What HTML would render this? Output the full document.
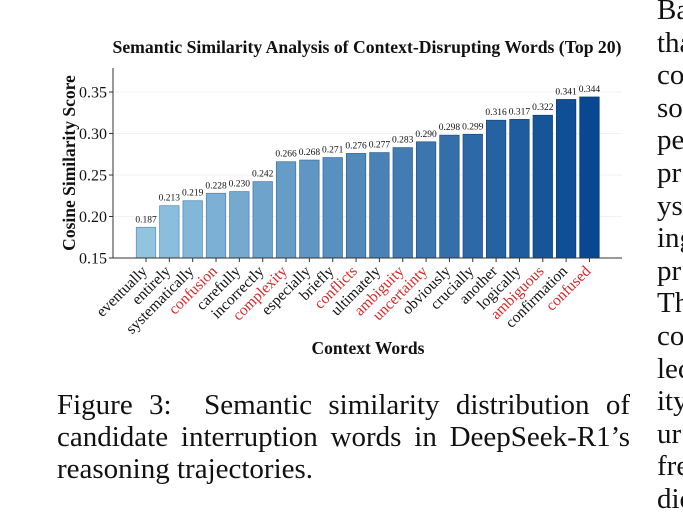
<!DOCTYPE html>
<html><head><meta charset="utf-8"><style>
body{margin:0;width:683px;height:519px;overflow:hidden;background:#fff;position:relative;font-family:"Liberation Serif",serif}
#cap{position:absolute;left:57px;top:389px;width:573px;font-size:29px;line-height:32px;text-align:justify;text-align-last:left;color:#111}
.rc{position:absolute;left:657px;font-size:29px;color:#111;white-space:nowrap}
</style></head><body>
<svg id="chart" width="683" height="380" style="position:absolute;left:0;top:0" font-family="Liberation Serif, serif"></svg>
<div id="cap">Figure 3:&nbsp; Semantic similarity distribution of candidate interruption words in DeepSeek-R1’s reasoning trajectories.</div>
<div id="rcol"></div>
<script>
const categories=["eventually","entirely","systematically","confusion","carefully","incorrectly","complexity","especially","briefly","conflicts","ultimately","ambiguity","uncertainty","obviously","crucially","another","logically","ambiguous","confirmation","confused"];
const values=[0.187,0.213,0.219,0.228,0.230,0.242,0.266,0.268,0.271,0.276,0.277,0.283,0.290,0.298,0.299,0.316,0.317,0.322,0.341,0.344];
const highlighted=["confusion","complexity","conflicts","ambiguity","uncertainty","ambiguous","confused"];
const yTicks=[0.15,0.20,0.25,0.30,0.35];
const yTickLabels=["0.15","0.20","0.25","0.30","0.35"];

const svg=document.getElementById('chart');
const NS='http://www.w3.org/2000/svg';
const y0=258,yMin=0.15,pxPer=41.5/0.05;
const yS=v=>y0-(v-yMin)*pxPer;
const xS=i=>146+i*23.34;
function mk(t,a){const e=document.createElementNS(NS,t);for(const k in a)e.setAttribute(k,a[k]);svg.appendChild(e);return e;}
function lerp(a,b,t){return Math.round(a+(b-a)*t);}
yTicks.forEach((v,i)=>{
  const g=mk('line',{x1:113,x2:622,y1:yS(v),y2:yS(v),stroke:'#eeeeee','stroke-width':0.8});
  
  
  const tk=mk('line',{x1:109,x2:113,y1:yS(v),y2:yS(v),stroke:'#333'});
  
  
  const t=mk('text',{x:107,y:yS(v)+5.5,'text-anchor':'end','font-size':16,fill:'#111'});
  t.textContent=yTickLabels[i];
  
  
});
categories.forEach((c,i)=>{
  const t=i/(categories.length-1);
  const col=`rgb(${lerp(146,8,t)},${lerp(196,72,t)},${lerp(224,145,t)})`;
  const edge=`rgb(${lerp(90,5,t)},${lerp(140,50,t)},${lerp(185,110,t)})`;
  const cx=xS(i),w=19.5;
  const b=mk('rect',{x:cx-w/2,y:yS(values[i]),width:w,height:y0-yS(values[i]),fill:col,stroke:edge,'stroke-width':0.7});
  
  
  const vl=mk('text',{x:cx,y:yS(values[i])-5,'text-anchor':'middle','font-size':9.5,fill:'#111'});
  vl.textContent=values[i].toFixed(3);
  
  
  const tk=mk('line',{x1:cx,x2:cx,y1:y0,y2:y0+4,stroke:'#333'});
  
  
  const xl=mk('text',{x:cx+2,y:y0+14,'text-anchor':'end','font-size':15.5,fill:highlighted.includes(c)?'#d62728':'#111',transform:`rotate(-45 ${cx+2} ${y0+14})`});
  xl.textContent=c;
  
  
});
let a=mk('line',{x1:113,x2:113,y1:68,y2:258,stroke:'#333'});

a=mk('line',{x1:113,x2:622,y1:258,y2:258,stroke:'#333'});

let t=mk('text',{x:367,y:53,'text-anchor':'middle','font-size':17.5,'font-weight':'bold',fill:'#111',textLength:509,lengthAdjust:'spacingAndGlyphs'});
t.textContent='Semantic Similarity Analysis of Context-Disrupting Words (Top 20)';

t=mk('text',{x:368,y:354,'text-anchor':'middle','font-size':17.5,'font-weight':'bold',fill:'#111'});
t.textContent='Context Words';

t=mk('text',{x:75,y:163,'text-anchor':'middle','font-size':17.5,'font-weight':'bold',fill:'#111',transform:'rotate(-90 75 163)'});
t.textContent='Cosine Similarity Score';

const rc=["Ba","tha","co","so","pe","pr","ys","ing","pr","Th","co","lec","ity","ur","fre","dic"];
const rcol=document.getElementById('rcol');
rc.forEach((w,i)=>{const d=document.createElement('div');d.className='rc';d.style.top=(i*32.6-6)+'px';d.textContent=w;


rcol.appendChild(d);});
</script>
</body></html>
